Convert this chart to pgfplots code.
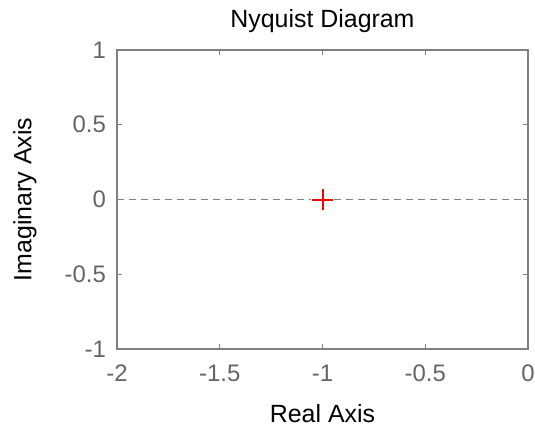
\documentclass[border=0pt]{standalone}
\usepackage{pgfplots}
\pgfplotsset{compat=1.18}
\usepackage{fontspec}
\setmainfont{Liberation Sans}
\definecolor{axgray}{RGB}{128,128,128}
\definecolor{lblgray}{RGB}{100,100,100}
\begin{document}
\begin{tikzpicture}
\begin{axis}[
  name=ax,
  scale only axis,
  width=411bp, height=299bp,
  xmin=-2, xmax=0, ymin=-1, ymax=1,
  xtick={-2,-1.5,-1,-0.5,0},
  ytick={-1,-0.5,0,0.5,1},
  tick align=inside,
  major tick length=5bp,
  axis line style={draw=axgray, line width=1.3bp},
  every tick/.style={axgray, line width=1bp},
  font=\fontsize{25}{30}\selectfont,
  ticklabel style={text=lblgray, font=\fontsize{24}{28}\selectfont, inner sep=0pt},
  xticklabel style={anchor=center, yshift=-24bp},
  yticklabel style={anchor=east, xshift=-11bp},
  /pgf/number format/assume math mode=true,
  /pgf/number format/fixed,
  title={Nyquist Diagram},
  xlabel={Real Axis},
  ylabel={Imaginary Axis},
  title style={at={(axis description cs:0.5,1.078)}, anchor=center, inner sep=0pt},
  xlabel style={at={(axis description cs:0.5,-0.215)}, anchor=center, inner sep=0pt},
  ylabel style={at={(axis description cs:-0.2238,0.5)}, anchor=center, inner sep=0pt},
  clip=false,
]
\addplot[axgray, line width=1.3bp, dash pattern=on 7bp off 5bp] coordinates {(-2,0) (-1.055,0)};
\addplot[axgray, line width=1.3bp, dash pattern=on 7bp off 5bp] coordinates {(-0.945,0) (0,0)};
\addplot[draw=red, line width=2bp, solid] coordinates {(-1.0511,0) (-0.9489,0)};
\addplot[draw=red, line width=2bp, solid] coordinates {(-1,-0.0702) (-1,0.0702)};
\end{axis}
\pgfresetboundingbox
\path[use as bounding box] ([shift={(-117bp,-80bp)}]ax.south west) rectangle ([shift={(7bp,50bp)}]ax.north east);
\end{tikzpicture}
\end{document}
